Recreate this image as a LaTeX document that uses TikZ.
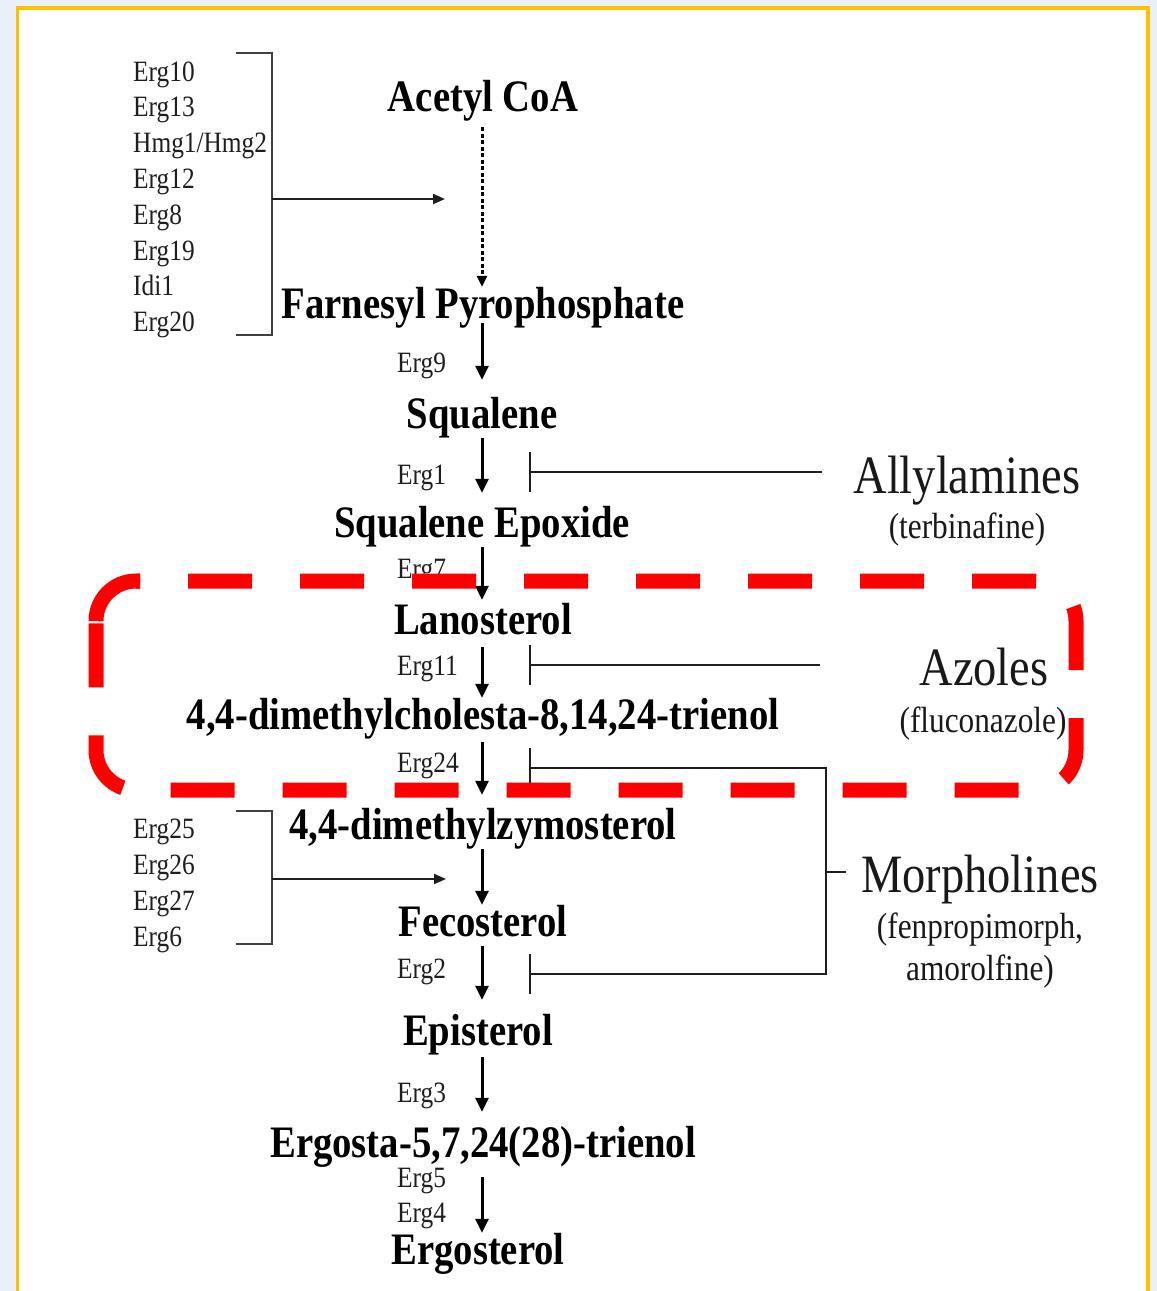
\documentclass[tikz,border=0pt]{standalone}
\usepackage{fontspec}
\newfontfamily\tnr[FakeStretch=0.86]{Liberation Serif}
\usetikzlibrary{arrows.meta}
\definecolor{slidebg}{HTML}{E9F0F8}
\definecolor{framegold}{HTML}{FFC000}
\definecolor{boxred}{HTML}{FF0000}
\definecolor{inkgray}{HTML}{1E1E1E}

\begin{document}
\begin{tikzpicture}[x=1pt, y=-1pt,
  compound/.style={inner sep=0pt, anchor=base, text height=31pt, text depth=10pt,
    font=\tnr\bfseries\fontsize{45}{50}\selectfont},
  enz/.style={inner sep=0pt, anchor=base west, text=inkgray, font=\tnr\fontsize{29.5}{32}\selectfont},
  drug/.style={inner sep=0pt, anchor=base, text=black!90, font=\tnr\fontsize{54}{60}\selectfont},
  drugsub/.style={inner sep=0pt, anchor=base, text=black!90, font=\tnr\fontsize{36.4}{40}\selectfont},
  flow/.style={line width=3pt, -{Triangle[length=14pt,width=13pt]}},
  dotflow/.style={line width=3pt, dash pattern=on 4pt off 2.5pt, -{Triangle[length=11pt,width=10pt]}},
  feed/.style={line width=2pt, inkgray, -{Triangle[length=12pt,width=10pt]}},
  bracket/.style={line width=2pt, inkgray!85},
  inhib/.style={line width=2pt, inkgray, {Bar[width=40pt]}-},
  redbox/.style={boxred, line width=15pt},
  ]
  \useasboundingbox (0,0) rectangle (1157,1291);
  % slide background and frame
  \fill[slidebg] (0,0) rectangle (1157,1291);
  \draw[framegold, line width=3.5pt, fill=white] (17.5,8) rectangle (1148,1320);

  \coordinate (spine) at (482,0);

  % sterol pathway
  \node[compound] (acoa) at (483,111)  {Acetyl CoA};
  \node[compound] (fpp)  at (483,318)  {Farnesyl Pyrophosphate};
  \node[compound] (sq)   at (482,428)  {Squalene};
  \node[compound] (sqe)  at (482,537)  {Squalene Epoxide};
  \node[compound] (lan)  at (483,634)  {Lanosterol};
  \node[compound] (dmc)  at (483,729)  {4,4-dimethylcholesta-8,14,24-trienol};
  \node[compound] (dmz)  at (483,839)  {4,4-dimethylzymosterol};
  \node[compound] (fec)  at (483,936)  {Fecosterol};
  \node[compound] (epi)  at (478,1045) {Episterol};
  \node[compound] (ergt) at (483,1157) {Ergosta-5,7,24(28)-trienol};
  \node[compound] (ergo) at (478,1264) {Ergosterol};

  \draw[dotflow, shorten <=6pt] (acoa.south -| spine) -- (fpp.north -| spine);
  \foreach \a/\b/\s/\t in {fpp/sq/-5pt/17pt, sq/sqe/0pt/13pt, sqe/lan/0pt/3pt,
      lan/dmc/3pt/0pt, dmc/dmz/3pt/13pt, dmz/fec/0pt/0pt, fec/epi/0pt/14pt,
      epi/ergt/2pt/14pt, ergt/ergo/10pt/0pt}
    \draw[flow, shorten <=\s, shorten >=\t] (\a.south -| spine) -- (\b.north -| spine);

  % enzymes on the steps
  \foreach \nm/\txt/\yy in {e9/Erg9/372, e1/Erg1/484, e7/Erg7/578, e11/Erg11/675,
      e24/Erg24/772, e2/Erg2/978, e3/Erg3/1102, e5/Erg5/1187, e4/Erg4/1222}
    \node[enz] (\nm) at (397,\yy) {\txt};

  % enzymes of the mevalonate branch
  \foreach \n [count=\i from 0] in {Erg10,Erg13,Hmg1/Hmg2,Erg12,Erg8,Erg19,Idi1,Erg20}
    \node[enz] (up\i) at (133,{81+35.8*\i}) {\n};
  \coordinate (br1a) at (236,53);
  \coordinate (br1b) at (236,335);
  \coordinate (br1x) at (272,199);
  \coordinate (br1t) at (445,199);
  \draw[bracket] (br1a) -| (br1x) |- (br1b);
  \draw[feed] (br1x) -- (br1t);

  % enzymes of the late branch
  \foreach \n [count=\i from 0] in {Erg25,Erg26,Erg27,Erg6}
    \node[enz] (lo\i) at (133,{838+36*\i}) {\n};
  \coordinate (br2a) at (236,811);
  \coordinate (br2b) at (236,944);
  \coordinate (br2x) at (272,879);
  \coordinate (br2t) at (446,879);
  \draw[bracket] (br2a) -| (br2x) |- (br2b);
  \draw[feed] (br2x) -- (br2t);

  % antifungal classes
  \node[drug]    (ally)  at (967,493) {Allylamines};
  \node[drugsub] (terb)  at (967,538) {(terbinafine)};
  \node[drug]    (azo)   at (984,685) {Azoles};
  \node[drugsub] (fluc)  at (983,732) {(fluconazole)};
  \node[drug]    (morph) at (980,892) {Morpholines};
  \node[drugsub] (fenp)  at (980,938) {(fenpropimorph,};
  \node[drugsub] (amor)  at (980,980) {amorolfine)};

  \coordinate (t1) at (529,472);
  \coordinate (ally-in) at (822,472);
  \coordinate (t2) at (529,665);
  \coordinate (azo-in) at (820,665);
  \coordinate (t3) at (529,768);
  \coordinate (t4) at (529,974);
  \coordinate (mb-top) at (826,768);
  \coordinate (mb-bot) at (826,974);
  \coordinate (mb-mid) at (826,872);
  \coordinate (morph-in) at (846,872);
  \draw[inhib] (t1) -- (ally-in);
  \draw[inhib] (t2) -- (azo-in);
  \draw[inhib, {Bar[width=40pt]}-{Bar[width=40pt]}] (t3) -- (mb-top) -- (mb-bot) -- (t4);
  \draw[line width=2pt, inkgray] (mb-mid) -- (morph-in);

  % highlight box
  \draw[redbox, dash pattern=on 64pt off 48pt, dash phase=60pt, rounded corners=40pt]
    (136,581) -- (1076,581) -- (1076,790) -- (96,790) -- (96,621);
  \draw[redbox] (96,615) -- (96,621) arc (180:270:40) -- (140,581);
\end{tikzpicture}
\end{document}
